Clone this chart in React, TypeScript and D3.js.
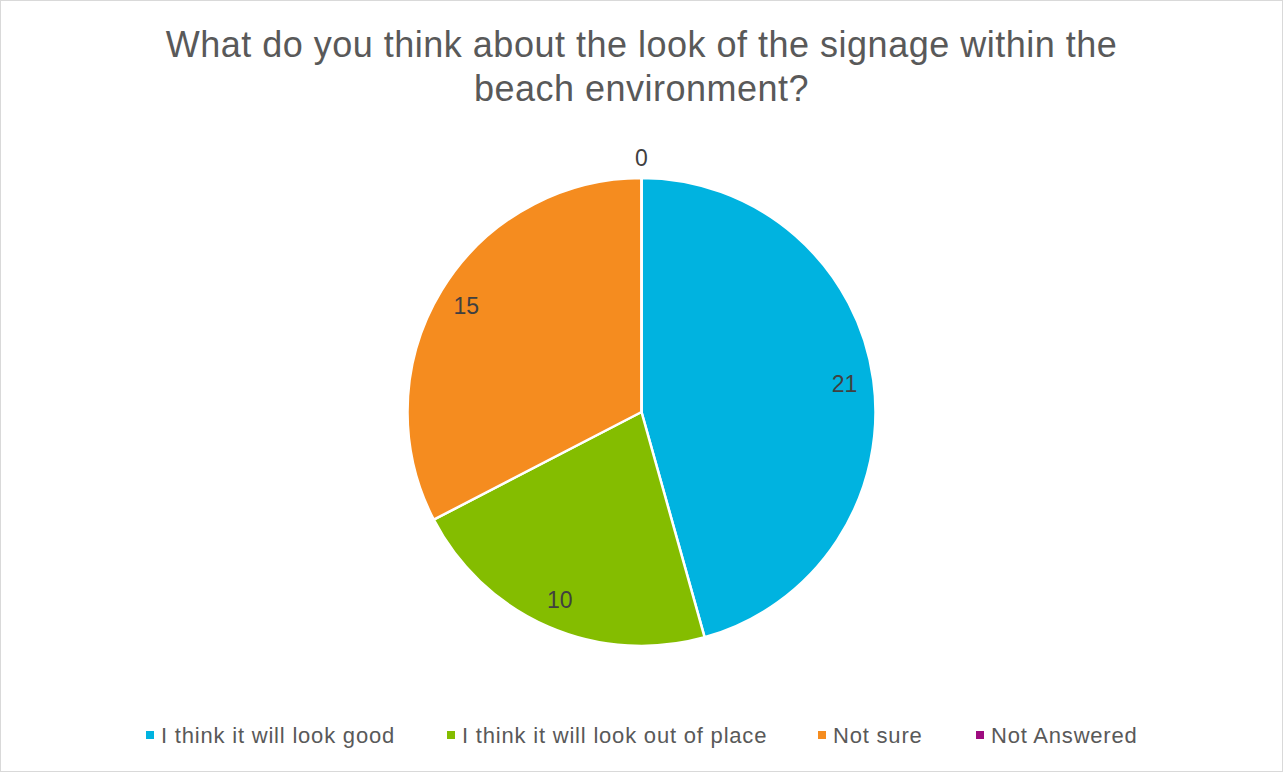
import React from "react";
import * as d3 from "d3";

const categories = ["I think it will look good", "I think it will look out of place", "Not sure", "Not Answered"];
const values = [21, 10, 15, 0];
const colors = ["#00B3E0", "#84BD00", "#F58C1F", "#9E0B7F"];
const titleLines = ["What do you think about the look of the signage within the", "beach environment?"];

const W = 1283, H = 772;
const cx = 641.5, cy = 412, R = 234;
const legendX = [146, 447, 818, 976];

export default function App() {
  const pie = d3.pie<number>().sort(null).value((d) => d)(values);
  const arc = d3.arc<d3.PieArcDatum<number>>().innerRadius(0).outerRadius(R);
  const font = "'Liberation Sans', Arial, sans-serif";
  return (
    <svg width={W} height={H} style={{ position: "absolute", left: 0, top: 0 }} fontFamily={font}>
      <rect x={0.5} y={0.5} width={W - 1} height={H - 1} fill="#fff" stroke="#d9d9d9" />
      {titleLines.map((t, i) => (
        <text key={i} x={W / 2} y={57 + i * 44} textAnchor="middle" fontSize={36} letterSpacing={0.5} fill="#595959">{t}</text>
      ))}
      <g transform={`translate(${cx},${cy})`}>
        {pie.map((p, i) => (
          <path key={i} d={arc(p) || ""} fill={colors[i]} stroke="#fff" strokeWidth={2.5} strokeLinejoin="round" />
        ))}
        {pie.map((p, i) => {
          const mid = (p.startAngle + p.endAngle) / 2;
          const r = p.value === 0 ? 254 : 205;
          const x = Math.sin(mid) * r, y = -Math.cos(mid) * r;
          return (
            <text key={i} x={x} y={y} dy="0.35em" textAnchor="middle" fontSize={23} fill="#404040">{p.value}</text>
          );
        })}
      </g>
      {categories.map((c, i) => (
        <g key={i}>
          <rect x={legendX[i]} y={731} width={8} height={8} fill={colors[i]} />
          <text x={legendX[i] + 15} y={735} dy="0.35em" fontSize={22} letterSpacing={0.8} fill="#595959">{c}</text>
        </g>
      ))}
    </svg>
  );
}
